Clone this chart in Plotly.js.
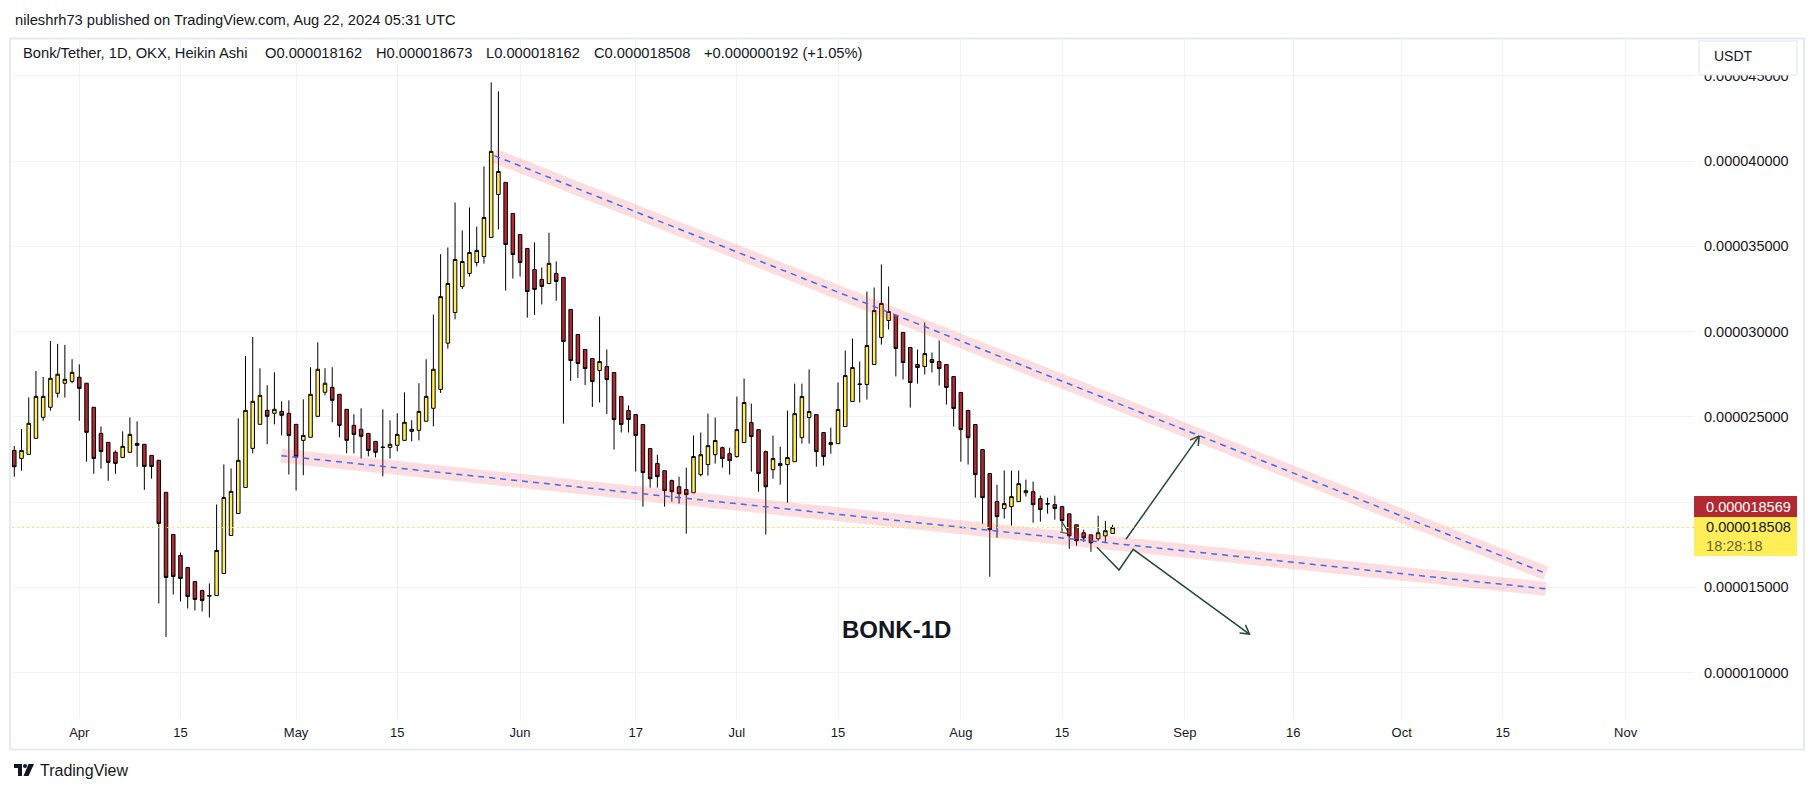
<!DOCTYPE html>
<html>
<head>
<meta charset="utf-8">
<script src="https://cdn.plot.ly/plotly-3.0.1.min.js"></script>
<style>
html,body{margin:0;padding:0;background:#ffffff;}
#chart{width:1814px;height:792px;}
</style>
</head>
<body>
<div id="chart"></div>
<script>
// ---------- DATA (prices in micro-USDT, i.e. x 1e-6) ----------
// Daily Heikin Ashi candles, first candle 2024-03-23, last 2024-08-22
const openU = [
  23.03, 22.56, 22.80, 23.74, 24.97, 25.56, 26.38, 26.97, 27.08,
  27.32, 26.97, 25.56, 24.03, 23.50, 22.92, 22.62, 22.92, 23.44, 23.39,
  22.74, 22.45, 20.57, 18.10, 16.87, 16.16, 15.34, 14.81, 14.48, 14.52,
  15.81, 18.04, 19.33, 20.86, 23.15, 24.56, 25.38, 25.21, 25.32, 25.21,
  24.56, 23.62, 23.80, 25.03, 26.44, 26.73, 26.32, 25.44, 24.50, 24.27,
  24.03, 23.56, 23.20, 23.21, 23.33, 23.62, 24.15, 24.21, 24.74, 25.50,
  26.61, 29.32, 31.12, 32.64, 33.41, 34.05, 34.40, 35.52, 38.04, 38.75, 36.93,
  35.69, 34.87, 33.64, 33.06, 32.82, 33.41, 33.18, 31.30, 29.83, 28.95,
  28.42, 27.72, 27.95, 27.60, 26.19, 25.37, 25.13, 24.55, 23.14, 22.26,
  21.84, 21.26, 20.90, 20.73, 20.55, 21.61, 22.20, 22.78, 23.19, 22.84,
  22.67, 23.49, 24.66, 24.25, 22.96, 21.90, 22.26, 22.20, 22.37, 23.78,
  24.96, 25.13, 24.08, 23.37, 23.43, 24.43, 25.90, 26.90, 26.90, 28.07,
  29.65, 30.65, 30.95, 29.95, 29.07, 28.07, 27.95, 28.36, 28.24, 28.07, 27.36,
  26.43, 25.37, 24.55, 23.08, 21.67, 20.03, 19.62, 19.73, 20.03, 20.55,
  20.61, 20.20, 19.91, 19.85, 19.73, 19.31, 18.67, 18.20, 18.08, 17.85, 18.02, 18.162
];
const highU = [
  23.29, 24.29, 26.14, 27.69, 27.34, 29.45, 29.28, 29.22, 28.38,
  28.08, 26.97, 25.56, 24.44, 23.50, 23.03, 24.15, 24.97, 24.74, 23.39,
  22.74, 22.45, 20.57, 18.10, 17.04, 16.16, 15.34, 14.87, 15.23, 19.86,
  22.21, 21.98, 24.91, 28.57, 29.69, 27.85, 26.85, 27.61, 25.91, 25.97,
  24.56, 26.03, 27.91, 29.37, 27.85, 27.91, 26.32, 25.44, 25.15, 25.50,
  24.03, 23.56, 25.44, 24.80, 25.21, 26.44, 24.80, 26.97, 28.38, 31.00,
  34.54, 34.93, 37.57, 35.93, 37.28, 36.16, 39.69, 44.62, 44.09, 38.75, 36.93,
  35.69, 34.87, 35.23, 33.76, 35.80, 34.11, 33.18, 31.30, 29.83, 28.95,
  28.42, 30.89, 28.95, 27.60, 26.19, 25.66, 25.13, 24.55, 23.14, 22.78,
  21.84, 21.32, 21.49, 22.02, 23.90, 24.08, 25.19, 24.96, 23.25, 23.19,
  26.19, 27.25, 25.78, 24.25, 23.02, 23.90, 23.25, 25.37, 26.95, 26.95,
  27.78, 25.13, 24.08, 24.37, 27.01, 28.89, 29.60, 28.24, 32.35, 32.59,
  33.94, 32.65, 30.95, 29.95, 29.07, 28.95, 30.53, 28.77, 29.48, 28.07, 27.36,
  26.43, 25.43, 24.55, 23.08, 21.67, 21.02, 21.85, 21.85, 21.85, 21.32,
  21.20, 20.38, 20.26, 20.38, 19.79, 19.31, 18.67, 18.38, 18.08, 19.20, 18.90, 18.673
];
const lowU = [
  21.49, 21.84, 22.80, 23.74, 24.77, 25.36, 26.13, 26.13, 26.97,
  24.77, 22.37, 21.66, 21.96, 21.25, 21.66, 22.62, 22.92, 22.07, 20.72,
  21.37, 14.05, 12.09, 14.58, 14.17, 13.76, 13.64, 13.58, 13.23, 14.52,
  15.81, 18.04, 19.33, 20.86, 22.86, 24.56, 23.39, 24.56, 23.91, 21.62,
  20.68, 21.57, 23.80, 25.03, 26.26, 24.68, 23.80, 22.86, 22.86, 22.56,
  22.68, 22.62, 21.51, 22.56, 22.97, 23.62, 23.56, 23.62, 24.74, 24.44,
  26.40, 29.00, 30.72, 32.50, 33.23, 33.82, 33.99, 35.52, 35.99, 32.41, 33.11,
  33.23, 30.82, 30.98, 31.59, 32.82, 31.81, 24.60, 27.11, 27.28, 26.87,
  25.58, 25.84, 25.17, 23.08, 24.08, 24.08, 21.79, 19.73, 20.85, 20.85,
  19.73, 20.02, 19.91, 18.15, 20.55, 21.50, 21.55, 22.26, 22.02, 21.61,
  22.61, 23.49, 21.79, 20.61, 18.09, 21.37, 21.02, 19.97, 22.37, 23.43,
  23.43, 22.08, 22.14, 22.84, 23.43, 24.43, 25.90, 25.84, 26.01, 28.07,
  29.24, 30.12, 27.37, 27.19, 25.54, 26.95, 27.48, 27.60, 26.84, 25.72, 24.43,
  22.37, 22.20, 20.26, 18.73, 15.62, 17.91, 19.03, 18.62, 20.03, 20.32,
  18.79, 18.85, 19.32, 18.97, 18.26, 17.26, 17.44, 17.67, 17.08, 17.73, 17.67, 18.162
];
const closeU = [
  22.07, 23.03, 24.62, 26.20, 26.20, 27.26, 27.50, 27.20, 27.61,
  26.67, 24.09, 22.56, 22.97, 22.33, 22.27, 23.27, 23.97, 23.33, 22.09,
  22.09, 18.75, 15.58, 15.64, 15.52, 14.46, 14.29, 14.23, 14.52, 17.16,
  20.27, 20.63, 22.45, 25.38, 25.91, 26.26, 25.03, 25.44, 25.09, 23.91,
  22.68, 23.91, 26.32, 27.79, 26.97, 25.97, 24.50, 23.62, 23.97, 23.86,
  23.03, 22.92, 23.22, 23.39, 23.97, 24.68, 24.27, 25.32, 26.20, 27.79,
  32.05, 32.82, 34.23, 34.11, 34.64, 34.76, 36.69, 40.57, 39.39, 35.11, 34.52,
  34.05, 32.35, 32.47, 32.65, 34.00, 32.94, 29.42, 28.30, 28.13, 27.83,
  27.07, 28.24, 27.19, 24.84, 24.55, 24.84, 23.90, 21.73, 21.37, 21.49,
  20.67, 20.61, 20.49, 20.44, 22.67, 22.78, 23.31, 23.61, 22.55, 22.43,
  24.25, 25.84, 23.84, 21.67, 20.90, 22.55, 22.14, 22.61, 25.19, 26.19,
  25.31, 22.96, 22.67, 23.49, 25.43, 27.42, 27.89, 26.92, 29.18, 31.24,
  31.65, 31.18, 29.01, 28.19, 27.01, 27.89, 28.71, 28.19, 27.83, 26.72, 25.49,
  24.25, 23.78, 21.61, 20.26, 18.38, 19.15, 19.91, 20.32, 21.08, 20.67,
  19.85, 19.56, 19.89, 19.62, 18.91, 18.02, 17.73, 17.90, 17.61, 18.20, 18.32, 18.508
];

// Trend drawings (time, price in micro-USDT)
const upperLineT = ['2024-05-28 10:30', '2024-10-20 23:00'];
const upperLineP = [40.32, 15.82];
const lowerLineT = ['2024-04-28 23:00', '2024-10-20 23:00'];
const lowerLineP = [22.72, 14.91];
const downPathT = ['2024-08-19 20:00', '2024-08-22 21:20', '2024-08-24 20:24', '2024-09-09 22:34'];
const downPathP = [17.35, 16.02, 17.23, 12.26];
const upPathT = ['2024-08-23 20:10', '2024-09-02 23:30'];
const upPathP = [17.82, 23.88];
const tinyMarkT = ['2024-08-15 00:00', '2024-08-15 17:45'];
const tinyMarkP = [18.85, 18.32];
const tinyMark2T = ['2024-08-14 17:45', '2024-08-15 17:45'];
const tinyMark2P = [18.23, 18.17];
const textLabel = {t: '2024-07-23 03:00', p: 12.53, text: 'BONK-1D'};

// Axis ticks (the 0.000020000 label is hidden behind the price labels)
const xTickVals = ['2024-04-01','2024-04-15','2024-05-01','2024-05-15','2024-06-01','2024-06-17','2024-07-01','2024-07-15','2024-08-01','2024-08-15','2024-09-01','2024-09-16','2024-10-01','2024-10-15','2024-11-01'];
const xTickText = ['Apr','15','May','15','Jun','17','Jul','15','Aug','15','Sep','16','Oct','15','Nov'];
const yTickValsU = [10, 15, 20, 25, 30, 35, 40, 45];
const yTickHidden = [20];

// Header values
const headerPublish = 'nileshrh73 published on TradingView.com, Aug 22, 2024 05:31 UTC';
const symbolTitle = 'Bonk/Tether, 1D, OKX, Heikin Ashi';
const ohlcTexts = ['O0.000018162', 'H0.000018673', 'L0.000018162', 'C0.000018508', '+0.000000192 (+1.05%)'];
const lastPriceU = 18.508;
const markPriceU = 18.569;
const countdown = '18:28:18';

// ---------- GEOMETRY ----------
const U = 1e-6;
const W = 1814, H = 792;
const M = {l: 12, r: 120, t: 39, b: 74};
const plotW = W - M.l - M.r, plotH = H - M.t - M.b;
const xRange = ['2024-03-22 16:26', '2024-11-10 11:02'];
const yRangeU = [7.337, 47.16];
const px2x = x => (x - M.l) / plotW;
const py = y => (H - M.b - y) / plotH;

function ms(s) {
  const [d, t = '00:00'] = s.split(' ');
  const [Y, Mo, D] = d.split('-').map(Number);
  const [h, mi] = t.split(':').map(Number);
  return Date.UTC(Y, Mo - 1, D, h, mi);
}
const xr0 = ms(xRange[0]), xr1 = ms(xRange[1]);
const msPerPx = (xr1 - xr0) / plotW;
const uPerPx = (yRangeU[1] - yRangeU[0]) / plotH;

function chevron(fromT, fromP, tipT, tipP, len, ang) {
  const fx = (ms(fromT) - xr0) / msPerPx, fy = (fromP - yRangeU[0]) / uPerPx;
  const tx = (ms(tipT) - xr0) / msPerPx, ty = (tipP - yRangeU[0]) / uPerPx;
  let ux = tx - fx, uy = ty - fy;
  const n = Math.hypot(ux, uy); ux /= n; uy /= n;
  const xs = [], ys = [];
  [1, -1].forEach((s, k) => {
    const a = s * ang;
    const rx = ux * Math.cos(a) - uy * Math.sin(a);
    const ry = ux * Math.sin(a) + uy * Math.cos(a);
    const px = tx - len * rx, pyy = ty - len * ry;
    if (k === 1) { xs.push(ms(tipT)); ys.push(tipP * U); }
    xs.push(xr0 + px * msPerPx); ys.push((yRangeU[0] + pyy * uPerPx) * U);
  });
  return {x: xs, y: ys};
}

const dates = openU.map((_, i) => new Date(Date.UTC(2024, 2, 23 + i)).toISOString().slice(0, 10));
const sc = a => a.map(v => v * U);

const RED = '#B22833', YEL = '#FFEE58', INK = '#131722';
const PINK = 'rgba(242, 54, 69, 0.17)', BLUE = '#3a6cff', GREEN = '#23483c';
const FONT = 'Liberation Sans, Arial, sans-serif';
const NB = '\u00a0\u00a0\u00a0';

const traces = [
  {
    type: 'candlestick', x: dates,
    open: sc(openU), high: sc(highU), low: sc(lowU), close: sc(closeU),
    increasing: {line: {color: '#000000', width: 1}, fillcolor: YEL},
    decreasing: {line: {color: '#000000', width: 1}, fillcolor: RED},
    whiskerwidth: 0, hoverinfo: 'skip', showlegend: false
  }
];
function lineTrace(t, p, color, width, dash) {
  return {type: 'scatter', mode: 'lines', x: t, y: sc(p),
    line: {color: color, width: width, dash: dash || 'solid'}, hoverinfo: 'skip', showlegend: false};
}
traces.push(lineTrace(upperLineT, upperLineP, PINK, 14));
traces.push(lineTrace(lowerLineT, lowerLineP, PINK, 14));
traces.push(lineTrace(upperLineT, upperLineP, BLUE, 1.5, '6px,5px'));
traces.push(lineTrace(lowerLineT, lowerLineP, BLUE, 1.5, '6px,5px'));
traces.push(lineTrace(downPathT, downPathP, GREEN, 1.5));
traces.push(lineTrace(upPathT, upPathP, GREEN, 1.5));
traces.push(lineTrace(tinyMarkT, tinyMarkP, GREEN, 1.2));
traces.push(lineTrace(tinyMark2T, tinyMark2P, '#555555', 1.2));
const ch1 = chevron(downPathT[2], downPathP[2], downPathT[3], downPathP[3], 10, Math.PI / 6);
const ch2 = chevron(upPathT[0], upPathP[0], upPathT[1], upPathP[1], 10, Math.PI / 6);
[ch1, ch2].forEach(c => traces.push({type: 'scatter', mode: 'lines', x: c.x, y: c.y,
  line: {color: GREEN, width: 1.5}, hoverinfo: 'skip', showlegend: false}));

const annotations = [
  {xref: 'paper', yref: 'paper', x: px2x(12.7), y: py(19.7), xanchor: 'left', yanchor: 'middle',
   text: headerPublish, showarrow: false, font: {family: FONT, size: 14.7, color: INK}},
  {xref: 'paper', yref: 'paper', x: px2x(21), y: py(53), xanchor: 'left', yanchor: 'middle',
   text: symbolTitle, showarrow: false, font: {family: FONT, size: 14.7, color: INK}},
  {xref: 'x', yref: 'y', x: textLabel.t, y: textLabel.p * U, xanchor: 'center', yanchor: 'middle',
   text: '<b>' + textLabel.text + '</b>', showarrow: false, font: {family: FONT, size: 24, color: INK}},
  {xref: 'paper', yref: 'y', x: 1, y: markPriceU * U, yshift: 20, xanchor: 'left', yanchor: 'middle',
   text: NB + (markPriceU * U).toFixed(9),
   showarrow: false, bgcolor: RED, width: 103, height: 21, borderpad: 0, borderwidth: 0, align: 'left',
   font: {family: FONT, size: 14.5, color: '#ffffff'}},
  {xref: 'paper', yref: 'y', x: 1, y: lastPriceU * U, yshift: -8.7, xanchor: 'left', yanchor: 'middle',
   text: NB + (lastPriceU * U).toFixed(9) + '<br>' + NB + '<span style="color:#6b6530">' + countdown + '</span>',
   showarrow: false, bgcolor: YEL, width: 103, height: 39, borderpad: 0, borderwidth: 0, align: 'left',
   font: {family: FONT, size: 14.5, color: INK}},
  {xref: 'paper', yref: 'paper', x: px2x(1712), y: py(56), xanchor: 'left', yanchor: 'middle',
   text: 'USDT', showarrow: false, font: {family: FONT, size: 14, color: INK}},
  {xref: 'paper', yref: 'paper', x: px2x(38), y: py(770.5), xanchor: 'left', yanchor: 'middle',
   text: 'TradingView', showarrow: false, font: {family: FONT, size: 16, color: INK}}
];
const ohlcX = [262.6, 373.7, 483.6, 592.4, 702.3];
ohlcTexts.forEach((t, i) => annotations.push({xref: 'paper', yref: 'paper', x: px2x(ohlcX[i]), y: py(53),
  xanchor: 'left', yanchor: 'middle', text: t, showarrow: false, font: {family: FONT, size: 14.7, color: INK}}));

const shapes = [
  // price line (dotted, last close)
  {type: 'line', xref: 'paper', yref: 'y', x0: 0, x1: 1, y0: lastPriceU * U, y1: lastPriceU * U,
   line: {color: '#f2e24a', width: 1, dash: '2px,3px'}, layer: 'above'},
  // widget frame
  {type: 'rect', xref: 'paper', yref: 'paper', x0: px2x(10), x1: px2x(1804), y0: py(38.5), y1: py(749.5),
   line: {color: '#e6e9f0', width: 2}, fillcolor: 'rgba(0,0,0,0)', layer: 'above'},
  // USDT button (hides the top half of the 0.000045000 label)
  {type: 'rect', xref: 'paper', yref: 'paper', x0: px2x(1699), x1: px2x(1797), y0: py(41), y1: py(75),
   line: {color: '#e0e3eb', width: 1}, fillcolor: '#ffffff', layer: 'above'},
  // TradingView logo (approximation)
  {type: 'path', xref: 'paper', yref: 'paper', layer: 'above', fillcolor: INK, line: {width: 0},
   path: `M${px2x(14)},${py(764)} L${px2x(22)},${py(764)} L${px2x(22)},${py(776)} L${px2x(18)},${py(776)} L${px2x(18)},${py(768)} L${px2x(14)},${py(768)} Z`},
  {type: 'circle', xref: 'paper', yref: 'paper', layer: 'above', fillcolor: INK, line: {width: 0},
   x0: px2x(23), x1: px2x(27), y0: py(768), y1: py(764)},
  {type: 'path', xref: 'paper', yref: 'paper', layer: 'above', fillcolor: INK, line: {width: 0},
   path: `M${px2x(28.5)},${py(764)} L${px2x(34)},${py(764)} L${px2x(28.5)},${py(776)} L${px2x(23.5)},${py(776)} Z`}
];

const layout = {
  width: W, height: H,
  margin: M,
  paper_bgcolor: '#ffffff', plot_bgcolor: '#ffffff',
  hovermode: false, showlegend: false, dragmode: false,
  font: {family: FONT, color: INK},
  xaxis: {
    type: 'date', range: xRange, rangeslider: {visible: false},
    tickmode: 'array', tickvals: xTickVals, ticktext: xTickText,
    showgrid: true, gridcolor: '#f0f3fa', gridwidth: 1, zeroline: false, showline: false,
    ticks: '', ticklabelstandoff: 5, tickfont: {family: FONT, size: 13, color: INK}, fixedrange: true
  },
  yaxis: {
    side: 'right', range: sc(yRangeU), tickmode: 'array', tickvals: sc(yTickValsU),
    ticktext: yTickValsU.map(v => yTickHidden.includes(v) ? '' : (v * U).toFixed(9)),
    showgrid: true, gridcolor: '#f0f3fa', gridwidth: 1, zeroline: false, showline: false,
    ticks: '', ticklabelstandoff: 9, tickfont: {family: FONT, size: 14.5, color: INK}, fixedrange: true
  },
  shapes: shapes,
  annotations: annotations
};

Plotly.newPlot('chart', traces, layout, {displayModeBar: false, staticPlot: true});
</script>
</body>
</html>
